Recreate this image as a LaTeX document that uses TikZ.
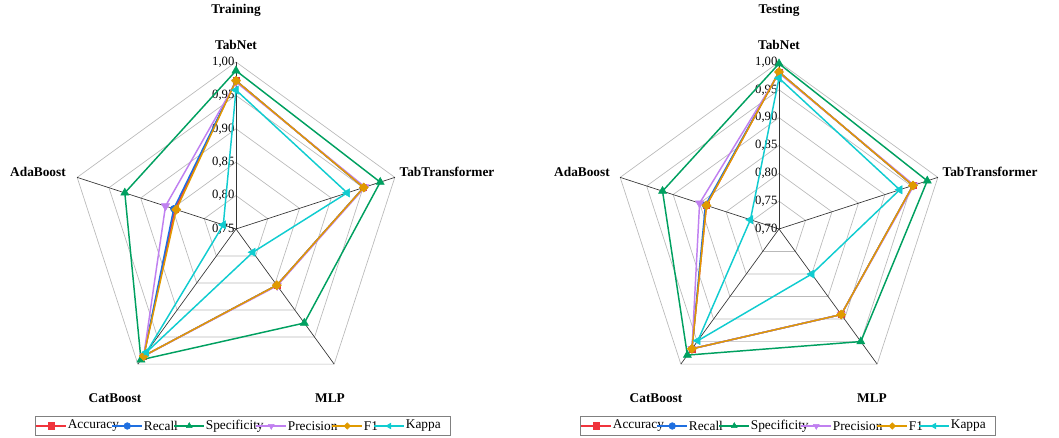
\documentclass[tikz,border=0pt]{standalone}
\usepackage{fontspec}
\setmainfont{Liberation Serif}
\usetikzlibrary{calc,shapes.geometric}
\definecolor{cAcc}{HTML}{F0343C}
\definecolor{cRec}{HTML}{1F6FE0}
\definecolor{cSpe}{HTML}{00A060}
\definecolor{cPre}{HTML}{C080F0}
\definecolor{cF}{HTML}{E09A00}
\definecolor{cKap}{HTML}{10CCD0}
\tikzset{
 mk/.style={inner sep=0pt,fill=#1,draw=#1},
 mAcc/.style={mk=cAcc,rectangle,minimum size=4.5pt},
 mRec/.style={mk=cRec,circle,minimum size=5pt},
 mSpe/.style={mk=cSpe,regular polygon,regular polygon sides=3,minimum size=7pt},
 mPre/.style={mk=cPre,regular polygon,regular polygon sides=3,shape border rotate=180,minimum size=7pt},
 mF/.style={mk=cF,diamond,minimum size=7pt},
 mKap/.style={mk=cKap,regular polygon,regular polygon sides=3,shape border rotate=90,minimum size=7pt},
 ring/.style={draw=gray!55,line width=0.5pt},
 axisln/.style={draw=black!80,line width=0.5pt},
 lbl/.style={font=\bfseries\fontsize{10}{11}\selectfont},
 tick/.style={font=\fontsize{9.5}{10}\selectfont,inner sep=1pt},
 ser/.style={line width=1.1pt,draw=#1},
}
\newcommand\myradar[5]{%
 \foreach \v [count=\i] in {#5} {%
  \pgfmathsetmacro\rr{(\v-#2)/(1-#2)*167}%
  \pgfmathsetmacro\aa{90-72*(\i-1)}%
  \coordinate (#1p\i) at ($(#1)+(\aa:\rr)$);}
 \draw[ser=#3] (#1p1)--(#1p2)--(#1p3)--(#1p4)--(#1p5)--cycle;
 \foreach \i in {1,...,5} \node[#4] at (#1p\i) {};
}
\newcommand\myframe[2]{%
 \foreach \k in {1,...,#2} {
  \pgfmathsetmacro\rr{167*\k/#2}
  \draw[ring] ($(#1)+(90:\rr)$)--($(#1)+(18:\rr)$)--($(#1)+(-54:\rr)$)--($(#1)+(-126:\rr)$)--($(#1)+(162:\rr)$)--cycle;}
 \foreach \a in {90,18,-54,-126,162} \draw[axisln] (#1)--($(#1)+(\a:167)$);
}
\newcommand\mylegend[1]{%
 \node[draw=gray,line width=0.6pt,minimum width=311pt,minimum height=14pt,inner sep=0pt] (#1box) at (#1) {};
 \begin{scope}[shift={(#1box.west)}]
 \foreach \c/\m/\t/\x in {cAcc/mAcc/Accuracy/1, cRec/mRec/Recall/77, cSpe/mSpe/Specificity/139, cPre/mPre/Precision/221, cF/mF/F1/297, cKap/mKap/Kappa/339}{
   \draw[ser=\c,line width=0.9pt] (\x,0)--(\x+30,0);
   \node[\m,minimum size=5pt] at (\x+15,0) {};
   \node[anchor=west,inner sep=1pt,font=\fontsize{10}{11}\selectfont] at (\x+30,0) {\t};}
 \end{scope}
}
\begin{document}
\begin{tikzpicture}[x=0.75pt,y=0.75pt]
\useasboundingbox (0,0) rectangle (1059,438);
\coordinate (L) at (236,209);
\coordinate (R) at (779,209);
\myframe{L}{5}
\myframe{R}{6}
\node[lbl] (t1) at (236,428) {Training};
\node[lbl] (t2) at (779,428) {Testing};
\node[lbl] (l1) at (236,393) {TabNet};
\node[lbl] (l2) at (447,266) {TabTransformer};
\node[lbl] (l3) at (330,40) {MLP};
\node[lbl] (l4) at (115,40) {CatBoost};
\node[lbl] (l5) at (38,266) {AdaBoost};
\node[lbl] (r1) at (779,393) {TabNet};
\node[lbl] (r2) at (990,266) {TabTransformer};
\node[lbl] (r3) at (872,40) {MLP};
\node[lbl] (r4) at (656,40) {CatBoost};
\node[lbl] (r5) at (582,266) {AdaBoost};
\foreach \t [count=\k from 0] in {{0,75},{0,80},{0,85},{0,90},{0,95},{1,00}}
  \node[tick,anchor=east] at ($(L)+(0,{167*\k/5})$) {\t};
\foreach \t [count=\k from 0] in {{0,70},{0,75},{0,80},{0,85},{0,90},{0,95},{1,00}}
  \node[tick,anchor=east] at ($(R)+(0,{167*\k/6})$) {\t};
\myradar{L}{0.75}{cAcc}{mAcc}{0.972,0.951,0.854,0.985,0.846}
\myradar{L}{0.75}{cRec}{mRec}{0.972,0.951,0.854,0.985,0.848}
\myradar{L}{0.75}{cSpe}{mSpe}{0.987,0.977,0.924,0.992,0.925}
\myradar{L}{0.75}{cPre}{mPre}{0.970,0.953,0.855,0.985,0.861}
\myradar{L}{0.75}{cF}{mF}{0.972,0.951,0.854,0.985,0.844}
\myradar{L}{0.75}{cKap}{mKap}{0.958,0.925,0.793,0.978,0.770}
\myradar{R}{0.70}{cAcc}{mAcc}{0.982,0.953,0.890,0.966,0.837}
\myradar{R}{0.70}{cRec}{mRec}{0.982,0.953,0.890,0.966,0.839}
\myradar{R}{0.70}{cSpe}{mSpe}{0.997,0.980,0.950,0.980,0.920}
\myradar{R}{0.70}{cPre}{mPre}{0.980,0.955,0.890,0.966,0.850}
\myradar{R}{0.70}{cF}{mF}{0.982,0.953,0.890,0.966,0.837}
\myradar{R}{0.70}{cKap}{mKap}{0.971,0.928,0.800,0.948,0.754}
\coordinate (lg1) at (243,12);
\coordinate (lg2) at (788,12);
\mylegend{lg1}
\mylegend{lg2}
\end{tikzpicture}
\end{document}
